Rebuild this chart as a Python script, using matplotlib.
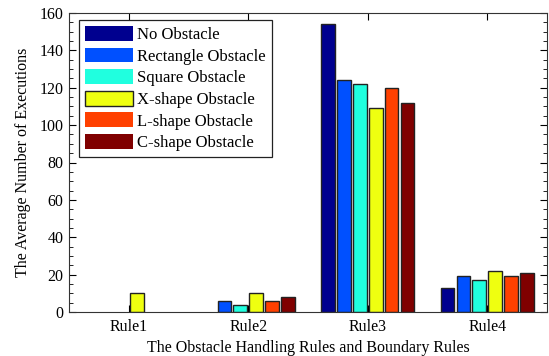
import matplotlib
matplotlib.use("Agg")
import matplotlib.pyplot as plt
import numpy as np
from matplotlib.ticker import MultipleLocator

categories = ["Rule1", "Rule2", "Rule3", "Rule4"]
series_names = ["No Obstacle", "Rectangle Obstacle", "Square Obstacle",
                "X-shape Obstacle", "L-shape Obstacle", "C-shape Obstacle"]
no_obstacle = [0, 0, 154, 13]
rectangle = [0, 6, 124, 19]
square = [0, 4, 122, 17]
xshape = [10, 10, 109, 22]
lshape = [0, 6, 120, 19]
cshape = [0, 8, 112, 21]
series_values = [no_obstacle, rectangle, square, xshape, lshape, cshape]
colors = ["#00008F", "#0050FF", "#20FFDF", "#EFFF10", "#FF4000", "#800000"]

plt.rcParams['font.family'] = ['Liberation Serif', 'DejaVu Serif']
fs = 11.5
fig = plt.figure(figsize=(5.49, 3.56), dpi=100)
ax = fig.add_axes([69/549, 1-312/356, (547-69)/549, (312-13)/356])

x = np.arange(1, len(categories) + 1)
n = len(series_values)
step = 0.133
width = 0.115
for i, (vals, name, c) in enumerate(zip(series_values, series_names, colors)):
    offs = (i - (n - 1) / 2) * step
    bars = ax.bar(x + offs, vals, width, color=c, edgecolor="#222222", linewidth=1.0, label=name)
    for b, v in zip(bars, vals):
        if v == 0:
            b.set_linewidth(0)

ax.set_xlim(0.5, 4.5)
ax.set_ylim(0, 160)
ax.set_xticks(x)
ax.set_xticklabels(categories)
ax.yaxis.set_major_locator(MultipleLocator(20))
ax.yaxis.set_minor_locator(MultipleLocator(5))
ax.tick_params(axis='both', which='both', direction='in', top=True, right=True, labelsize=fs)
ax.tick_params(axis='both', which='major', length=5)
ax.tick_params(axis='x', which='major', pad=5)
ax.tick_params(axis='y', which='major', pad=4)
ax.tick_params(axis='y', which='minor', length=3)
for s in ax.spines.values():
    s.set_color("#333333")
ax.set_xlabel("The Obstacle Handling Rules and Boundary Rules", fontsize=fs, labelpad=4)
ax.set_ylabel("The Average Number of Executions", fontsize=fs, labelpad=6)

leg = ax.legend(loc="upper left", fontsize=12, handlelength=2.9, handleheight=1.0,
                fancybox=False, edgecolor="#222222", framealpha=1,
                bbox_to_anchor=(10/478, 1 - 7/299), borderaxespad=0,
                labelspacing=0.27, handletextpad=0.25, borderpad=0.35)
leg.get_frame().set_linewidth(0.9)

fig.savefig("out.png", dpi=100)
